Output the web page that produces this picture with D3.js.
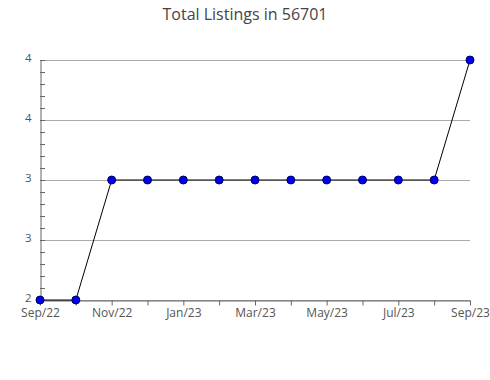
<!DOCTYPE html>
<html>
<head>
<meta charset="utf-8">
<script src="https://cdn.jsdelivr.net/npm/d3@7"></script>
<style>
  body { margin: 0; background: #fff; }
  svg text { font-family: "Open Sans", sans-serif; }
</style>
</head>
<body>
<div id="chart"></div>
<script>
'use strict';

var months = ['Sep/22', 'Oct/22', 'Nov/22', 'Dec/22', 'Jan/23', 'Feb/23', 'Mar/23',
              'Apr/23', 'May/23', 'Jun/23', 'Jul/23', 'Aug/23', 'Sep/23'];
var listings = [2, 2, 3, 3, 3, 3, 3, 3, 3, 3, 3, 3, 4];
var yTicks = [2, 2.5, 3, 3.5, 4];
var title = 'Total Listings in 56701';

var width = 490,
    height = 380,
    margin = {top: 60, right: 20, bottom: 80, left: 40};

var svg = d3.select('#chart')
  .append('svg')
    .attr('width', width)
    .attr('height', height);

var x = d3.scalePoint()
  .domain(months)
  .range([margin.left, width - margin.right]);

var y = d3.scaleLinear()
  .domain([2, 4])
  .range([height - margin.bottom, margin.top]);

// title
svg.append('text')
  .attr('x', width / 2)
  .attr('y', 20)
  .style('text-anchor', 'middle')
  .style('font-size', '16px')
  .style('fill', '#444')
  .text(title);

// gridlines
svg.append('g')
  .selectAll('line')
  .data(yTicks)
  .enter()
  .append('line')
    .attr('x1', margin.left)
    .attr('x2', width - margin.right)
    .attr('y1', function(d) { return Math.round(y(d)) + 0.5; })
    .attr('y2', function(d) { return Math.round(y(d)) + 0.5; })
    .style('stroke', '#aaa');

// minor ticks on y axis
svg.append('g')
  .selectAll('line')
  .data(d3.range(2, 4.0001, 0.1))
  .enter()
  .append('line')
    .attr('x1', margin.left)
    .attr('x2', margin.left + 5)
    .attr('y1', function(d) { return Math.round(y(d)) + 0.5; })
    .attr('y2', function(d) { return Math.round(y(d)) + 0.5; })
    .style('stroke', '#666');

// y axis
var yAxis = svg.append('g')
  .attr('transform', 'translate(' + (margin.left + 0.5) + ',0)')
  .call(d3.axisLeft(y).tickValues(yTicks).tickSize(0).tickPadding(9)
    .tickFormat(d3.format('.0f')));
yAxis.select('.domain').style('stroke', '#666');
yAxis.selectAll('text').style('font-size', '11.5px').style('fill', '#555')
  .attr('dy', '0.1em')
  .style('font-family', '"Open Sans", sans-serif');

// x axis
var xAxis = svg.append('g')
  .attr('transform', 'translate(0,' + (height - margin.bottom + 0.5) + ')')
  .call(d3.axisBottom(x).tickSize(5).tickSizeOuter(0).tickPadding(3)
    .tickFormat(function(d, i) { return i % 2 === 0 ? d : ''; }));
xAxis.select('.domain').style('stroke', '#666');
xAxis.selectAll('line').style('stroke', '#666');
xAxis.selectAll('text').style('font-size', '12px').style('fill', '#555')
  .style('font-family', '"Open Sans", sans-serif');

// line
var line = d3.line()
  .x(function(d, i) { return x(months[i]); })
  .y(function(d) { return y(d); });

svg.append('path')
  .datum(listings)
  .attr('d', line)
  .style('fill', 'none')
  .style('stroke', '#000')
  .style('stroke-width', 1);

// markers
svg.append('g')
  .selectAll('circle')
  .data(listings)
  .enter()
  .append('circle')
    .attr('cx', function(d, i) { return x(months[i]); })
    .attr('cy', function(d) { return y(d); })
    .attr('r', 4)
    .style('fill', '#0000ee')
    .style('stroke', '#000066')
    .style('stroke-width', 1);
</script>
</body>
</html>
